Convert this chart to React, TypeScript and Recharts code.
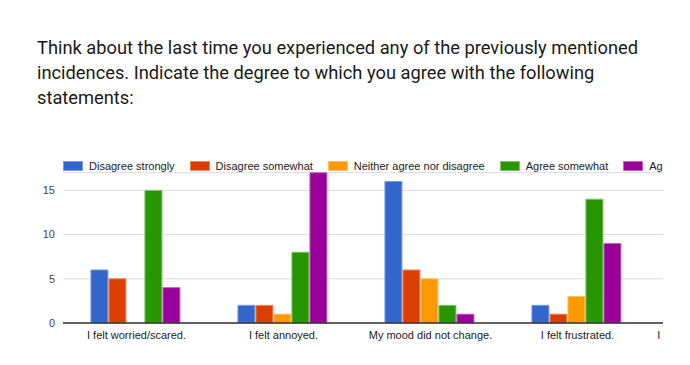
import React from 'react';
import { BarChart, Bar, XAxis, YAxis, CartesianGrid } from 'recharts';

const statements = [
  'I felt worried/scared.',
  'I felt annoyed.',
  'My mood did not change.',
  'I felt frustrated.',
  'I felt embarrassed/helpless.',
];

const disagreeStrongly = [6, 2, 16, 2, 0];
const disagreeSomewhat = [5, 2, 6, 1, 0];
const neitherAgree = [0, 1, 5, 3, 0];
const agreeSomewhat = [15, 8, 2, 14, 0];
const agreeStrongly = [4, 17, 1, 9, 0];

const yTicks = [0, 5, 10, 15];

const series = [
  { key: 'ds', name: 'Disagree strongly', color: '#3366CC', border: '#7a9be0', values: disagreeStrongly },
  { key: 'dw', name: 'Disagree somewhat', color: '#DC3D00', border: '#ec8a66', values: disagreeSomewhat },
  { key: 'na', name: 'Neither agree nor disagree', color: '#FF9900', border: '#ffc266', values: neitherAgree },
  { key: 'as', name: 'Agree somewhat', color: '#289600', border: '#7cc266', values: agreeSomewhat },
  { key: 'ag', name: 'Agree strongly', color: '#990099', border: '#c266c2', values: agreeStrongly },
];

const data = statements.map((s, i) => {
  const row: any = { statement: s };
  series.forEach((sr) => {
    row[sr.key] = sr.values[i];
  });
  return row;
});

const font = 'Arial, "Liberation Sans", sans-serif';

export default function App() {
  return (
    <div style={{ position: 'absolute', left: 0, top: 0, width: 690, height: 365, background: '#fff', overflow: 'hidden' }}>
      {/* Question title */}
      <div
        style={{
          position: 'absolute',
          left: 37,
          top: 35,
          width: 640,
          fontFamily: 'Roboto, sans-serif',
          fontSize: 18.3,
          lineHeight: '25px',
          color: '#1a1a1a',
        }}
      >
        Think about the last time you experienced any of the previously mentioned incidences. Indicate the degree to which you agree with the following statements:
      </div>

      {/* clipped chart area (legend + plot run past the right edge) */}
      <div style={{ position: 'absolute', left: 0, top: 150, width: 663, height: 215, overflow: 'hidden' }}>
        <div
          style={{
            position: 'absolute',
            left: 63,
            top: 10,
            whiteSpace: 'nowrap',
            fontFamily: font,
            fontSize: 11,
            color: '#222',
            lineHeight: '12px',
          }}
        >
          {series.map((sr) => (
            <span key={sr.key} style={{ display: 'inline-flex', alignItems: 'center', marginRight: 15 }}>
              <span
                style={{
                  display: 'inline-block',
                  width: 20,
                  height: 10,
                  background: sr.color,
                  border: `1px solid ${sr.border}`,
                  marginRight: 6,
                  boxSizing: 'border-box',
                }}
              />
              {sr.name}
            </span>
          ))}
        </div>
        <div style={{ position: 'absolute', left: 0, top: 0 }}>
          <BarChart
            width={810}
            height={215}
            data={data}
            margin={{ top: 22.7, right: 12, bottom: 12, left: 0 }}
            barCategoryGap="19%"
            barGap={1}
          >
            <CartesianGrid vertical={false} stroke="#dcdcdc" />
            <XAxis
              dataKey="statement"
              tickLine={false}
              axisLine={{ stroke: '#333', strokeWidth: 1.5 }}
              interval={0}
              height={30}
              tick={{ fill: '#222', fontSize: 11, fontFamily: font }}
            />
            <YAxis
              width={63}
              domain={[0, 17]}
              ticks={yTicks}
              tickLine={false}
              axisLine={false}
              tick={{ fill: '#444', fontSize: 11, fontFamily: font }}
            />
            {series.map((sr) => (
              <Bar
                key={sr.key}
                dataKey={sr.key}
                name={sr.name}
                fill={sr.color}
                stroke={sr.border}
                strokeWidth={1}
                isAnimationActive={false}
              />
            ))}
          </BarChart>
        </div>
      </div>
    </div>
  );
}
